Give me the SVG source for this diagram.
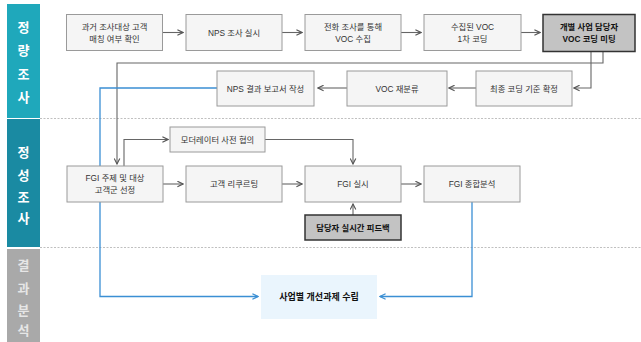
<svg xmlns="http://www.w3.org/2000/svg" width="641" height="342" viewBox="0 0 641 342">
<defs>
<marker id="ah" viewBox="0 0 10 10" refX="9" refY="5" markerWidth="7" markerHeight="7" markerUnits="userSpaceOnUse" orient="auto">
<path d="M1,1 L9,5 L1,9" fill="none" stroke="#555" stroke-width="1.6"/>
</marker>
<marker id="ahb" viewBox="0 0 10 10" refX="9" refY="5" markerWidth="7" markerHeight="7" markerUnits="userSpaceOnUse" orient="auto">
<path d="M1,1 L9,5 L1,9" fill="none" stroke="#3b8fd4" stroke-width="1.8"/>
</marker>
</defs>
<style>
text{font-family:"Liberation Sans","Noto Sans CJK KR",sans-serif;}
.box{fill:#f5f5f5;stroke:#9a9a9a;stroke-width:1;}
.hbox{fill:#c3c3c3;stroke:#333;stroke-width:1.5;}
.t{font-size:8.3px;fill:#333;text-anchor:middle;}
.tb{font-size:8.3px;fill:#111;text-anchor:middle;font-weight:bold;}
.side{font-size:13px;font-weight:bold;fill:#fff;text-anchor:middle;}
.sideg{font-size:13px;font-weight:bold;fill:#e6e6e6;text-anchor:middle;}
.sep{stroke:#b0b0b0;stroke-width:0.8;stroke-dasharray:2,1.5;fill:none;}
.c{fill:none;stroke:#666;stroke-width:1.1;}
.cb{fill:none;stroke:#3b8fd4;stroke-width:1.3;}
</style>
<rect width="641" height="342" fill="#fff"/>
<g id="lanes">
<rect x="7" y="4" width="33" height="114" fill="#1fa8bb"/>
<rect x="7" y="119" width="33" height="128" fill="#1a8aa2"/>
<rect x="7" y="249" width="33" height="93" fill="#a9a9a9"/>
<text class="side" x="23.5" y="32">정</text>
<text class="side" x="23.5" y="55">량</text>
<text class="side" x="23.5" y="79">조</text>
<text class="side" x="23.5" y="102">사</text>
<text class="side" x="23.5" y="157">정</text>
<text class="side" x="23.5" y="180">성</text>
<text class="side" x="23.5" y="202">조</text>
<text class="side" x="23.5" y="223">사</text>
<text class="sideg" x="23.5" y="270">결</text>
<text class="sideg" x="23.5" y="293">과</text>
<text class="sideg" x="23.5" y="315">분</text>
<text class="sideg" x="23.5" y="335">석</text>
<path class="sep" d="M40,118.5 H641 M40,247.5 H641"/>
</g>
<g id="connectors">
<path class="c" d="M163,32.5 H183" marker-end="url(#ah)"/>
<path class="c" d="M282,32.5 H302" marker-end="url(#ah)"/>
<path class="c" d="M401,32.5 H421" marker-end="url(#ah)"/>
<path class="c" d="M521,32.5 H540" marker-end="url(#ah)"/>
<path class="c" d="M603,52 V63 H117 V164" marker-end="url(#ah)"/>
<path class="c" d="M591,52 V88 H574" marker-end="url(#ah)"/>
<path class="c" d="M476,88 H449" marker-end="url(#ah)"/>
<path class="c" d="M347,88 H318" marker-end="url(#ah)"/>
<path class="c" d="M124,166 V139.5 H168" marker-end="url(#ah)"/>
<path class="c" d="M265,139.5 H353 V164" marker-end="url(#ah)"/>
<path class="c" d="M163,184 H183" marker-end="url(#ah)"/>
<path class="c" d="M282,184 H302" marker-end="url(#ah)"/>
<path class="c" d="M401,184 H421" marker-end="url(#ah)"/>
<path class="c" d="M353,215 V204" marker-end="url(#ah)"/>
<path class="cb" d="M217,88 H100 V296.5 H258" marker-end="url(#ahb)"/>
<path class="cb" d="M472,202 V296.5 H380" marker-end="url(#ahb)"/>
</g>
<g id="n1"><rect class="box" x="66.5" y="14.5" width="96" height="36"/><text class="t" x="114.5" y="30">과거 조사대상 고객</text><text class="t" x="114.5" y="42">매칭 여부 확인</text></g>
<g id="n2"><rect class="box" x="186" y="14.5" width="96" height="36"/><text class="t" x="234" y="36">NPS 조사 실시</text></g>
<g id="n3"><rect class="box" x="305" y="14.5" width="96" height="36"/><text class="t" x="353" y="30">전화 조사를 통해</text><text class="t" x="353" y="42">VOC 수집</text></g>
<g id="n4"><rect class="box" x="424" y="14.5" width="97" height="36"/><text class="t" x="472.5" y="30">수집된 VOC</text><text class="t" x="472.5" y="42">1차 코딩</text></g>
<g id="n5"><rect class="hbox" x="543" y="14.5" width="92" height="37"/><text class="tb" x="589" y="30">개별 사업 담당자</text><text class="tb" x="589" y="42">VOC 코딩 미팅</text></g>
<g id="n6"><rect class="box" x="217" y="71" width="97" height="35"/><text class="t" x="265.5" y="91.5">NPS 결과 보고서 작성</text></g>
<g id="n7"><rect class="box" x="347" y="71" width="100" height="35"/><text class="t" x="397" y="91.5">VOC 재분류</text></g>
<g id="n8"><rect class="box" x="476" y="71" width="96" height="35"/><text class="t" x="524" y="91.5">최종 코딩 기준 확정</text></g>
<g id="n9"><rect class="box" x="170" y="127" width="95" height="25"/><text class="t" x="217.5" y="142.5">모더레이터 사전 협의</text></g>
<g id="n10"><rect class="box" x="67" y="166" width="96" height="36"/><text class="t" x="115" y="181">FGI 주제 및 대상</text><text class="t" x="115" y="193">고객군 선정</text></g>
<g id="n11"><rect class="box" x="186" y="166" width="96" height="36"/><text class="t" x="234" y="187">고객 리쿠르팅</text></g>
<g id="n12"><rect class="box" x="305" y="166" width="96" height="36"/><text class="t" x="353" y="187">FGI 실시</text></g>
<g id="n13"><rect class="box" x="424" y="166" width="96" height="36"/><text class="t" x="472" y="187">FGI 종합분석</text></g>
<g id="n14"><rect class="hbox" x="305" y="215" width="96" height="25"/><text class="tb" x="353" y="230.5">담당자 실시간 피드백</text></g>
<g id="n15"><rect x="261" y="275" width="116" height="44" fill="#eaf5fd"/><text class="tb" x="319" y="300" style="font-size:9px">사업별 개선과제 수립</text></g>
</svg>
